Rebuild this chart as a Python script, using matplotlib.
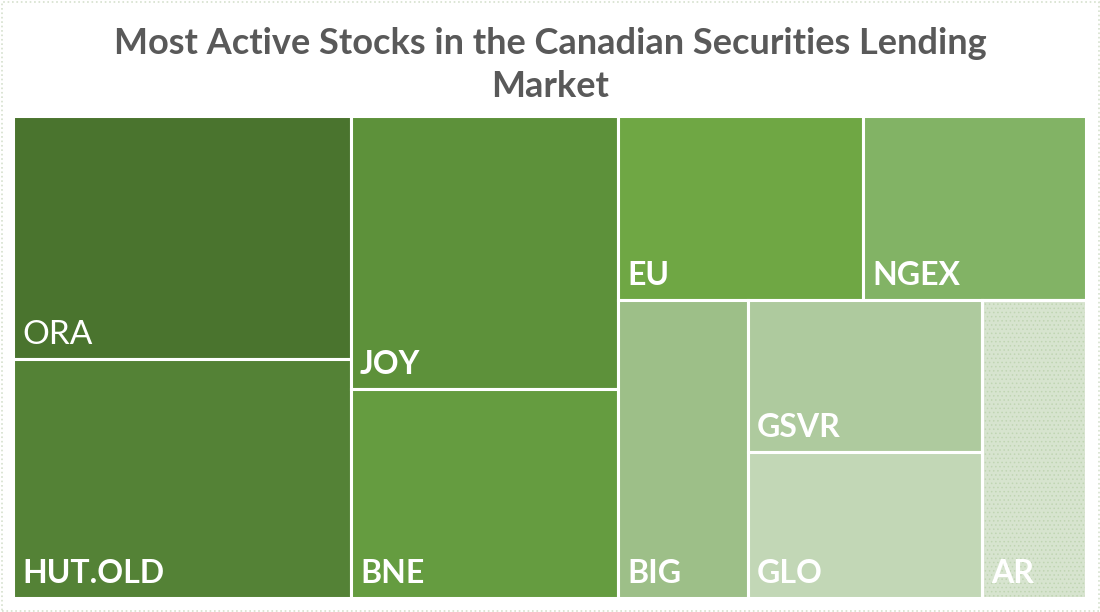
import matplotlib
matplotlib.use("Agg")
import matplotlib.pyplot as plt
from matplotlib.patches import Rectangle

# ---- data (share of activity) ----
tickers = ["ORA", "HUT.OLD", "JOY", "BNE", "EU", "NGEX", "BIG", "GSVR", "GLO", "AR"]
values = [15.9, 15.6, 14.1, 10.8, 8.7, 7.9, 7.5, 6.9, 6.6, 6.0]
colors = ["#4A742E", "#548236", "#5D913A", "#659C40", "#6FA744", "#82B365",
          "#9DBF88", "#AECA9E", "#C2D7B6", "#D7E4CF"]
title = "Most Active Stocks in the Canadian Securities Lending\nMarket"

val = dict(zip(tickers, values))
col = dict(zip(tickers, colors))

# Excel-like treemap structure: ('v' = split left-right, 'h' = split top-bottom)
layout = ("v", [
    ("h", ["ORA", "HUT.OLD"]),
    ("h", ["JOY", "BNE"]),
    ("h", [
        ("v", ["EU", "NGEX"]),
        ("v", ["BIG", ("h", ["GSVR", "GLO"]), "AR"]),
    ]),
])


def total(node):
    if isinstance(node, str):
        return val[node]
    return sum(total(c) for c in node[1])


def place(node, x, y, w, h, out):
    # y measured from top
    if isinstance(node, str):
        out[node] = (x, y, w, h)
        return
    d, kids = node
    s = total(node)
    pos = 0.0
    for k in kids:
        f = total(k) / s
        if d == "v":
            place(k, x + pos * w, y, w * f, h, out)
        else:
            place(k, x, y + pos * h, w, h * f, out)
        pos += f


rects = {}
place(layout, 0.0, 0.0, 1.0, 1.0, rects)

W, H = 1100, 612
fig = plt.figure(figsize=(W / 100, H / 100), dpi=100)
ax = fig.add_axes([13 / W, (H - 598) / H, 1073 / W, 482 / H])
ax.set_xlim(0, 1)
ax.set_ylim(1, 0)
ax.axis("off")

plt.rcParams["hatch.linewidth"] = 0.6
for t in tickers:
    x, y, w, h = rects[t]
    ax.add_patch(Rectangle((x, y), w, h, facecolor=col[t], edgecolor="white",
                           linewidth=2.2, zorder=1))
    if t == "AR":
        ax.add_patch(Rectangle((x, y), w, h, facecolor="none", edgecolor="#C0D5B3",
                               hatch="....", linewidth=0, zorder=2))
        ax.add_patch(Rectangle((x, y), w, h, facecolor="none", edgecolor="white",
                               linewidth=2.2, zorder=3))
    ax.annotate(t, xy=(x, y + h), xytext=(9, 15), textcoords="offset pixels",
                ha="left", va="baseline", color="white",
                fontsize=24 if t == "ORA" else 23,
                fontweight="normal" if t == "ORA" else "bold",
                family=["Lato", "DejaVu Sans"], zorder=4)

fig.text(0.5, 1 - 97 / H, title, ha="center", va="baseline", fontsize=26,
         fontweight="bold", color="#595959", family=["Lato", "DejaVu Sans"],
         linespacing=1.38)

fig.patches.append(Rectangle((1.5 / W, 1.5 / H), (W - 3) / W, (H - 3) / H,
                             transform=fig.transFigure, facecolor="none",
                             edgecolor="#D5E0CD", linestyle=":", linewidth=1.2))

fig.savefig("out.png", dpi=100)
